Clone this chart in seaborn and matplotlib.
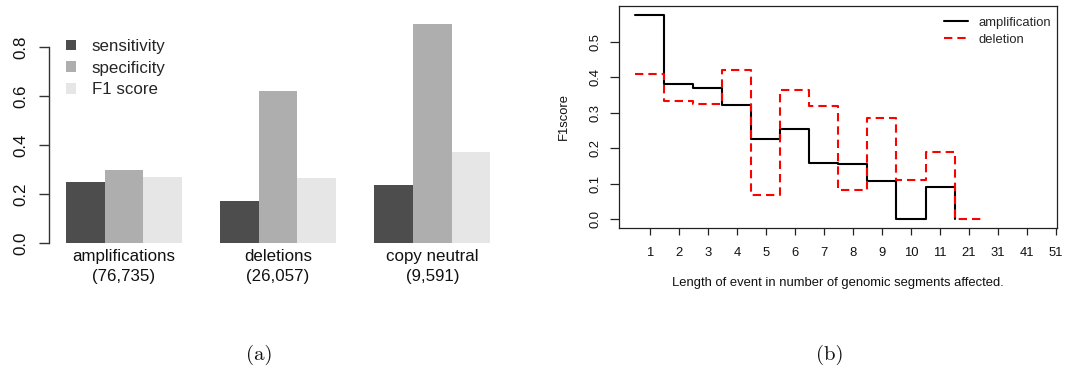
import matplotlib
matplotlib.use("Agg")
import matplotlib.pyplot as plt
import seaborn as sns
import pandas as pd
from matplotlib.lines import Line2D
from matplotlib.patches import Patch

# ---- panel (a): detection performance per event type ----
categories = ["amplifications", "deletions", "copy neutral"]
category_counts = ["76,735", "26,057", "9,591"]
metrics = ["sensitivity", "specificity", "F1 score"]
sensitivity = [0.249, 0.171, 0.237]
specificity = [0.298, 0.620, 0.894]
f1_score = [0.268, 0.264, 0.370]
bar_colors = ["#4D4D4D", "#AEAEAE", "#E6E6E6"]

# ---- panel (b): F1 score by event length ----
length_labels = ["1", "2", "3", "4", "5", "6", "7", "8", "9", "10",
                 "11", "21", "31", "41", "51"]
amplification_f1 = [0.576, 0.382, 0.369, 0.323, 0.227, 0.255, 0.158,
                    0.155, 0.108, 0.000, 0.091]
deletion_f1 = [0.408, 0.334, 0.324, 0.421, 0.069, 0.364, 0.319, 0.083,
               0.286, 0.111, 0.189, 0.000]

sns.set_theme(style="white")
plt.rcParams["font.family"] = ["Liberation Sans", "DejaVu Sans"]

W, H = 1078, 366
fig = plt.figure(figsize=(W / 100, H / 100), dpi=100)


def px_rect(left, top, right, bottom):
    return [left / W, 1 - bottom / H, (right - left) / W, (bottom - top) / H]


TXT = "#111111"
LINE = "#333333"

# ---------------- panel (a) ----------------
bar_df = pd.DataFrame({
    "category": [f"{c}\n({n})" for c, n in zip(categories, category_counts)] * 3,
    "metric": [m for m in metrics for _ in categories],
    "value": sensitivity + specificity + f1_score,
})
ax1 = fig.add_axes(px_rect(49, 10, 520, 243))
sns.barplot(data=bar_df, x="category", y="value", hue="metric",
            hue_order=metrics, palette=bar_colors, saturation=1,
            width=0.75, linewidth=0, ax=ax1)
ax1.set_xlim(-0.486, 2.569)
ax1.set_ylim(0, 0.951)
ax1.set_xlabel("")
ax1.set_ylabel("")
for side in ["top", "right", "bottom"]:
    ax1.spines[side].set_visible(False)
ax1.spines["left"].set_bounds(0, 0.8)
ax1.spines["left"].set_color(LINE)
ax1.spines["left"].set_linewidth(1.0)
ax1.set_yticks([0, 0.2, 0.4, 0.6, 0.8])
ax1.set_yticklabels(["0.0", "0.2", "0.4", "0.6", "0.8"])
ax1.tick_params(axis="y", left=True, length=7.2, width=1.0, color=LINE,
                pad=8, labelsize=12.2, labelcolor=TXT, labelrotation=90)
for lbl in ax1.get_yticklabels():
    lbl.set_va("center")
ax1.tick_params(axis="x", bottom=False, length=0, pad=4, labelsize=12.2,
                labelcolor=TXT)
for lbl in ax1.get_xticklabels():
    lbl.set_linespacing(1.45)
handles_a = [Patch(facecolor=c, edgecolor="none") for c in bar_colors]
ax1.legend(handles_a, metrics, loc="upper left",
           bbox_to_anchor=(66 / W, 1 - 39 / H), bbox_transform=fig.transFigure,
           frameon=False, fontsize=12.2, handlelength=0.59, handleheight=0.59,
           handletextpad=0.94, labelspacing=0.39, borderpad=0,
           borderaxespad=0)

# ---------------- panel (b) ----------------
def step_frame(values, name):
    xs = [i + 0.5 for i in range(len(values) + 1)]
    ys = list(values) + [0.0]
    return pd.DataFrame({"x": xs, "y": ys, "series": name})


line_df = pd.concat([step_frame(amplification_f1, "amplification"),
                     step_frame(deletion_f1, "deletion")], ignore_index=True)

ax2 = fig.add_axes(px_rect(618.7, 5.7, 1056.7, 227.7))
sns.lineplot(data=line_df, x="x", y="y", hue="series", style="series",
             palette={"amplification": "black", "deletion": "red"},
             dashes={"amplification": "", "deletion": (4, 2.4)},
             drawstyle="steps-post", linewidth=1.5, estimator=None,
             sort=False, legend=False, ax=ax2)
ax2.set_xlim(-0.07, 15.02)
ax2.set_ylim(-0.0236, 0.601)
for side in ["top", "right", "bottom", "left"]:
    ax2.spines[side].set_visible(True)
    ax2.spines[side].set_color("#222222")
    ax2.spines[side].set_linewidth(0.9)
ax2.set_xticks(range(1, len(length_labels) + 1))
ax2.set_xticklabels(length_labels)
ax2.set_yticks([0, 0.1, 0.2, 0.3, 0.4, 0.5])
ax2.set_yticklabels(["0.0", "0.1", "0.2", "0.3", "0.4", "0.5"])
ax2.tick_params(axis="x", bottom=True, length=5.3, width=0.9, color="#222222",
                pad=8.5, labelsize=9.4, labelcolor=TXT)
ax2.tick_params(axis="y", left=True, length=6.3, width=0.9, color="#222222",
                pad=6, labelsize=9.4, labelcolor=TXT, labelrotation=90)
for lbl in ax2.get_yticklabels():
    lbl.set_va("center")
ax2.set_xlabel("Length of event in number of genomic segments affected.",
               fontsize=9.4, color=TXT)
ax2.set_ylabel("F1score", fontsize=9.4, color=TXT)
ax2.xaxis.set_label_coords(0.5, -0.222)
ax2.yaxis.set_label_coords(-0.111, 0.5)
handles_b = [Line2D([], [], color="black", linewidth=1.5),
             Line2D([], [], color="red", linewidth=1.5, dashes=(4, 2.4))]
ax2.legend(handles_b, ["amplification", "deletion"], loc="upper left",
           bbox_to_anchor=(944 / W, 1 - 16.5 / H), bbox_transform=fig.transFigure,
           frameon=False, fontsize=9.4, handlelength=1.84, handletextpad=0.84,
           labelspacing=0.4, borderpad=0, borderaxespad=0)

# ---------------- captions ----------------
fig.text(259.5 / W, 1 - 355 / H, "(a)", fontfamily="cmr10", fontsize=15,
         ha="center", va="center", color=TXT)
fig.text(830 / W, 1 - 355 / H, "(b)", fontfamily="cmr10", fontsize=15,
         ha="center", va="center", color=TXT)

fig.savefig("out.png", dpi=100, facecolor="white")
